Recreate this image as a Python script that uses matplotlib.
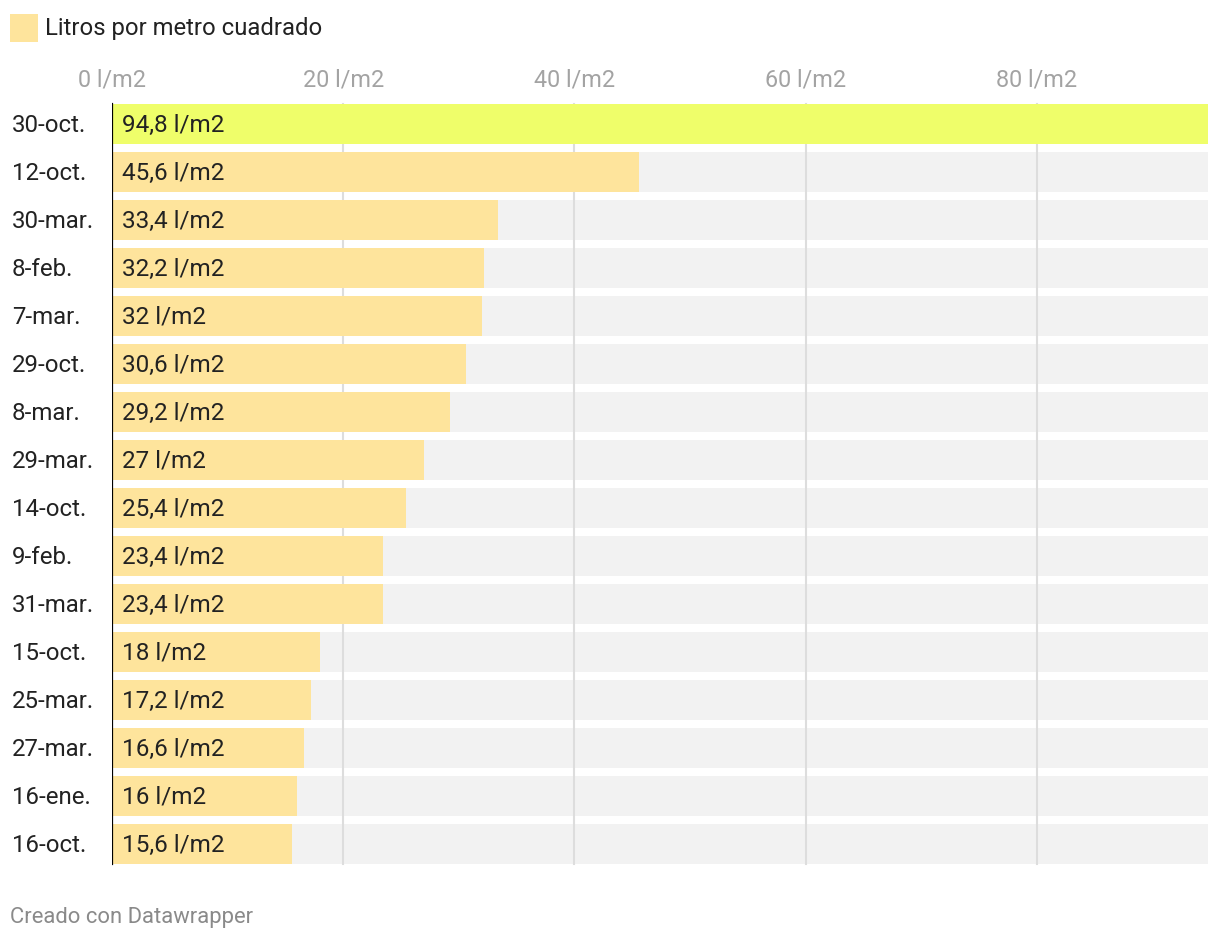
import matplotlib.pyplot as plt
import matplotlib.patches as patches

plt.rcParams['font.family'] = ['Roboto', 'DejaVu Sans']

# Data
fechas = ['30-oct.', '12-oct.', '30-mar.', '8-feb.', '7-mar.', '29-oct.', '8-mar.', '29-mar.',
          '14-oct.', '9-feb.', '31-mar.', '15-oct.', '25-mar.', '27-mar.', '16-ene.', '16-oct.']
litros = [94.8, 45.6, 33.4, 32.2, 32, 30.6, 29.2, 27, 25.4, 23.4, 23.4, 18, 17.2, 16.6, 16, 15.6]
ticks = [0, 20, 40, 60, 80]

# Colors
highlight = '#effe6a'
beige = '#fee49c'
bg_gray = '#f2f2f2'
grid_gray = '#dddddd'
text_dark = '#222222'

W, H = 1220, 942
fig = plt.figure(figsize=(W / 100, H / 100), dpi=100)
fig.patch.set_facecolor('white')

# axes: x from 112 to 1208 px, rows from 100 to 868 px
ax = fig.add_axes([112 / W, (H - 868) / H, 1096 / W, 768 / H])
ax.set_xlim(0, 94.8)
ax.set_ylim(len(fechas) - 0.5, -0.5)
ax.axis('off')

bar_h = 40 / 48
rows = list(range(len(fechas)))

# gray background bars
ax.barh(rows, [94.8] * len(rows), height=bar_h, color=bg_gray, zorder=1)

# gridlines
for t in ticks[1:]:
    ax.axvline(t, ymin=4 / 768, ymax=764 / 768, color=grid_gray, lw=1.5, zorder=2)

# value bars
colors = [highlight if i == 0 else beige for i in rows]
ax.barh(rows, litros, height=bar_h, color=colors, zorder=3)

# baseline
ax.axvline(0, ymin=4 / 768, ymax=764 / 768, color='black', lw=1.6, zorder=4)


def fmt(v):
    s = ('%.1f' % v).rstrip('0').rstrip('.')
    return s.replace('.', ',') + ' l/m2'


for i, (f, v) in enumerate(zip(fechas, litros)):
    ax.text(0.9, i + 0.03, fmt(v), fontsize=17.5, color=text_dark, ha='left', va='center', zorder=5)
    fig.text(12 / W, 1 - (125.5 + 48 * i) / H, f, fontsize=17.3, color=text_dark,
             ha='left', va='center')

# tick labels on top
for t in ticks:
    fig.text((112 + t * 1096 / 94.8) / W, 1 - 80.5 / H, '%d l/m2' % t, fontsize=16.8,
             color='#a3a3a3', ha='center', va='center')

# legend
fig.patches.append(patches.Rectangle((10 / W, 1 - 42 / H), 28 / W, 28 / H,
                                     transform=fig.transFigure, facecolor=beige,
                                     edgecolor='none'))
fig.text(45 / W, 1 - 28 / H, 'Litros por metro cuadrado', fontsize=17.2,
         color=text_dark, ha='left', va='center')

# footer
fig.text(10 / W, 1 - 917 / H, 'Creado con Datawrapper', fontsize=15.8,
         color='#8a8a8a', ha='left', va='center')

plt.savefig('out.png', dpi=100)
